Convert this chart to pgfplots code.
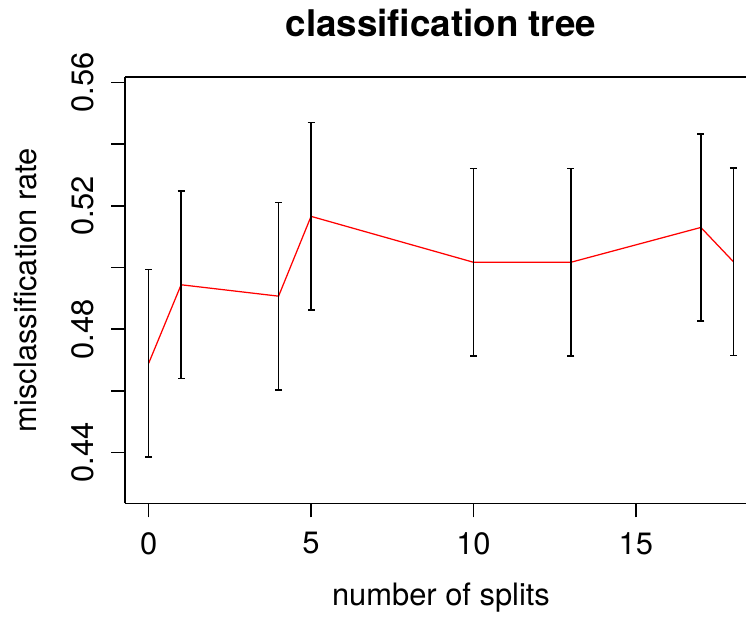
\documentclass[border=0pt]{standalone}
\usepackage{fontspec}
\setmainfont{TeX Gyre Heros}
\usepackage{pgfplots}
\pgfplotsset{compat=1.18}
\usepackage{pgfplotstable}
\pgfplotstableread{
x y e
0 0.4689 0.0304
1 0.4944 0.0304
4 0.4907 0.0304
5 0.5166 0.0304
10 0.5017 0.0304
13 0.5017 0.0304
17 0.5130 0.0304
18 0.5019 0.0304
}\cvdata
\begin{document}
\begin{tikzpicture}
\begin{axis}[
  at={(50.1pt,45.9pt)}, anchor=south west,
  scale only axis, width=252.6pt, height=170.6pt,
  xmin=-0.72, xmax=18.72, ymin=0.4235, ymax=0.5619,
  axis x line*=box, axis y line*=left,
  axis line style={line width=0.6pt, black},
  x axis line style={-}, y axis line style={-},
  xtick={0,5,10,15}, xticklabels={0,5,10,15},
  ytick={0.44,0.46,0.48,0.50,0.52,0.54,0.56},
  yticklabels={0.44,,0.48,,0.52,,0.56},
  xtick pos=lower, ytick pos=left,
  tick align=outside, major tick length=5.6pt,
  every tick/.style={line width=0.6pt, black},
  /pgf/number format/assume math mode=true,
  tick label style={font=\fontsize{12.35}{14}\selectfont, inner sep=0pt},
  xticklabel style={anchor=north, yshift=-5.8pt},
  yticklabel style={rotate=90, anchor=south, yshift=6.8pt},
  title={classification tree},
  title style={font=\fontsize{14.7}{17}\selectfont\bfseries, anchor=base, at={(axis description cs:0.5,1)}, yshift=10.3pt, inner sep=0pt},
  xlabel={number of splits},
  xlabel style={font=\fontsize{12.35}{14}\selectfont, anchor=base, at={(axis description cs:0.5,0)}, yshift=-40.7pt, inner sep=0pt},
  ylabel={misclassification rate},
  ylabel style={font=\fontsize{12.35}{14}\selectfont, at={(axis description cs:0,0.5)}, anchor=base, yshift=35.3pt, inner sep=0pt},
  clip=false,
]
\addplot[red, line width=0.5pt, mark=none] table[x=x, y=y] {\cvdata};
\addplot[draw=none, mark=none,
  error bars/.cd, y dir=both, y explicit,
  error bar style={line width=0.6pt, black},
  error mark options={rotate=90, mark size=1.4pt, line width=0.6pt, black}]
  table[x=x, y=y, y error=e] {\cvdata};
\end{axis}
\pgfresetboundingbox
\useasboundingbox (0,0) rectangle (298.4pt,247.2pt);
\end{tikzpicture}
\end{document}
